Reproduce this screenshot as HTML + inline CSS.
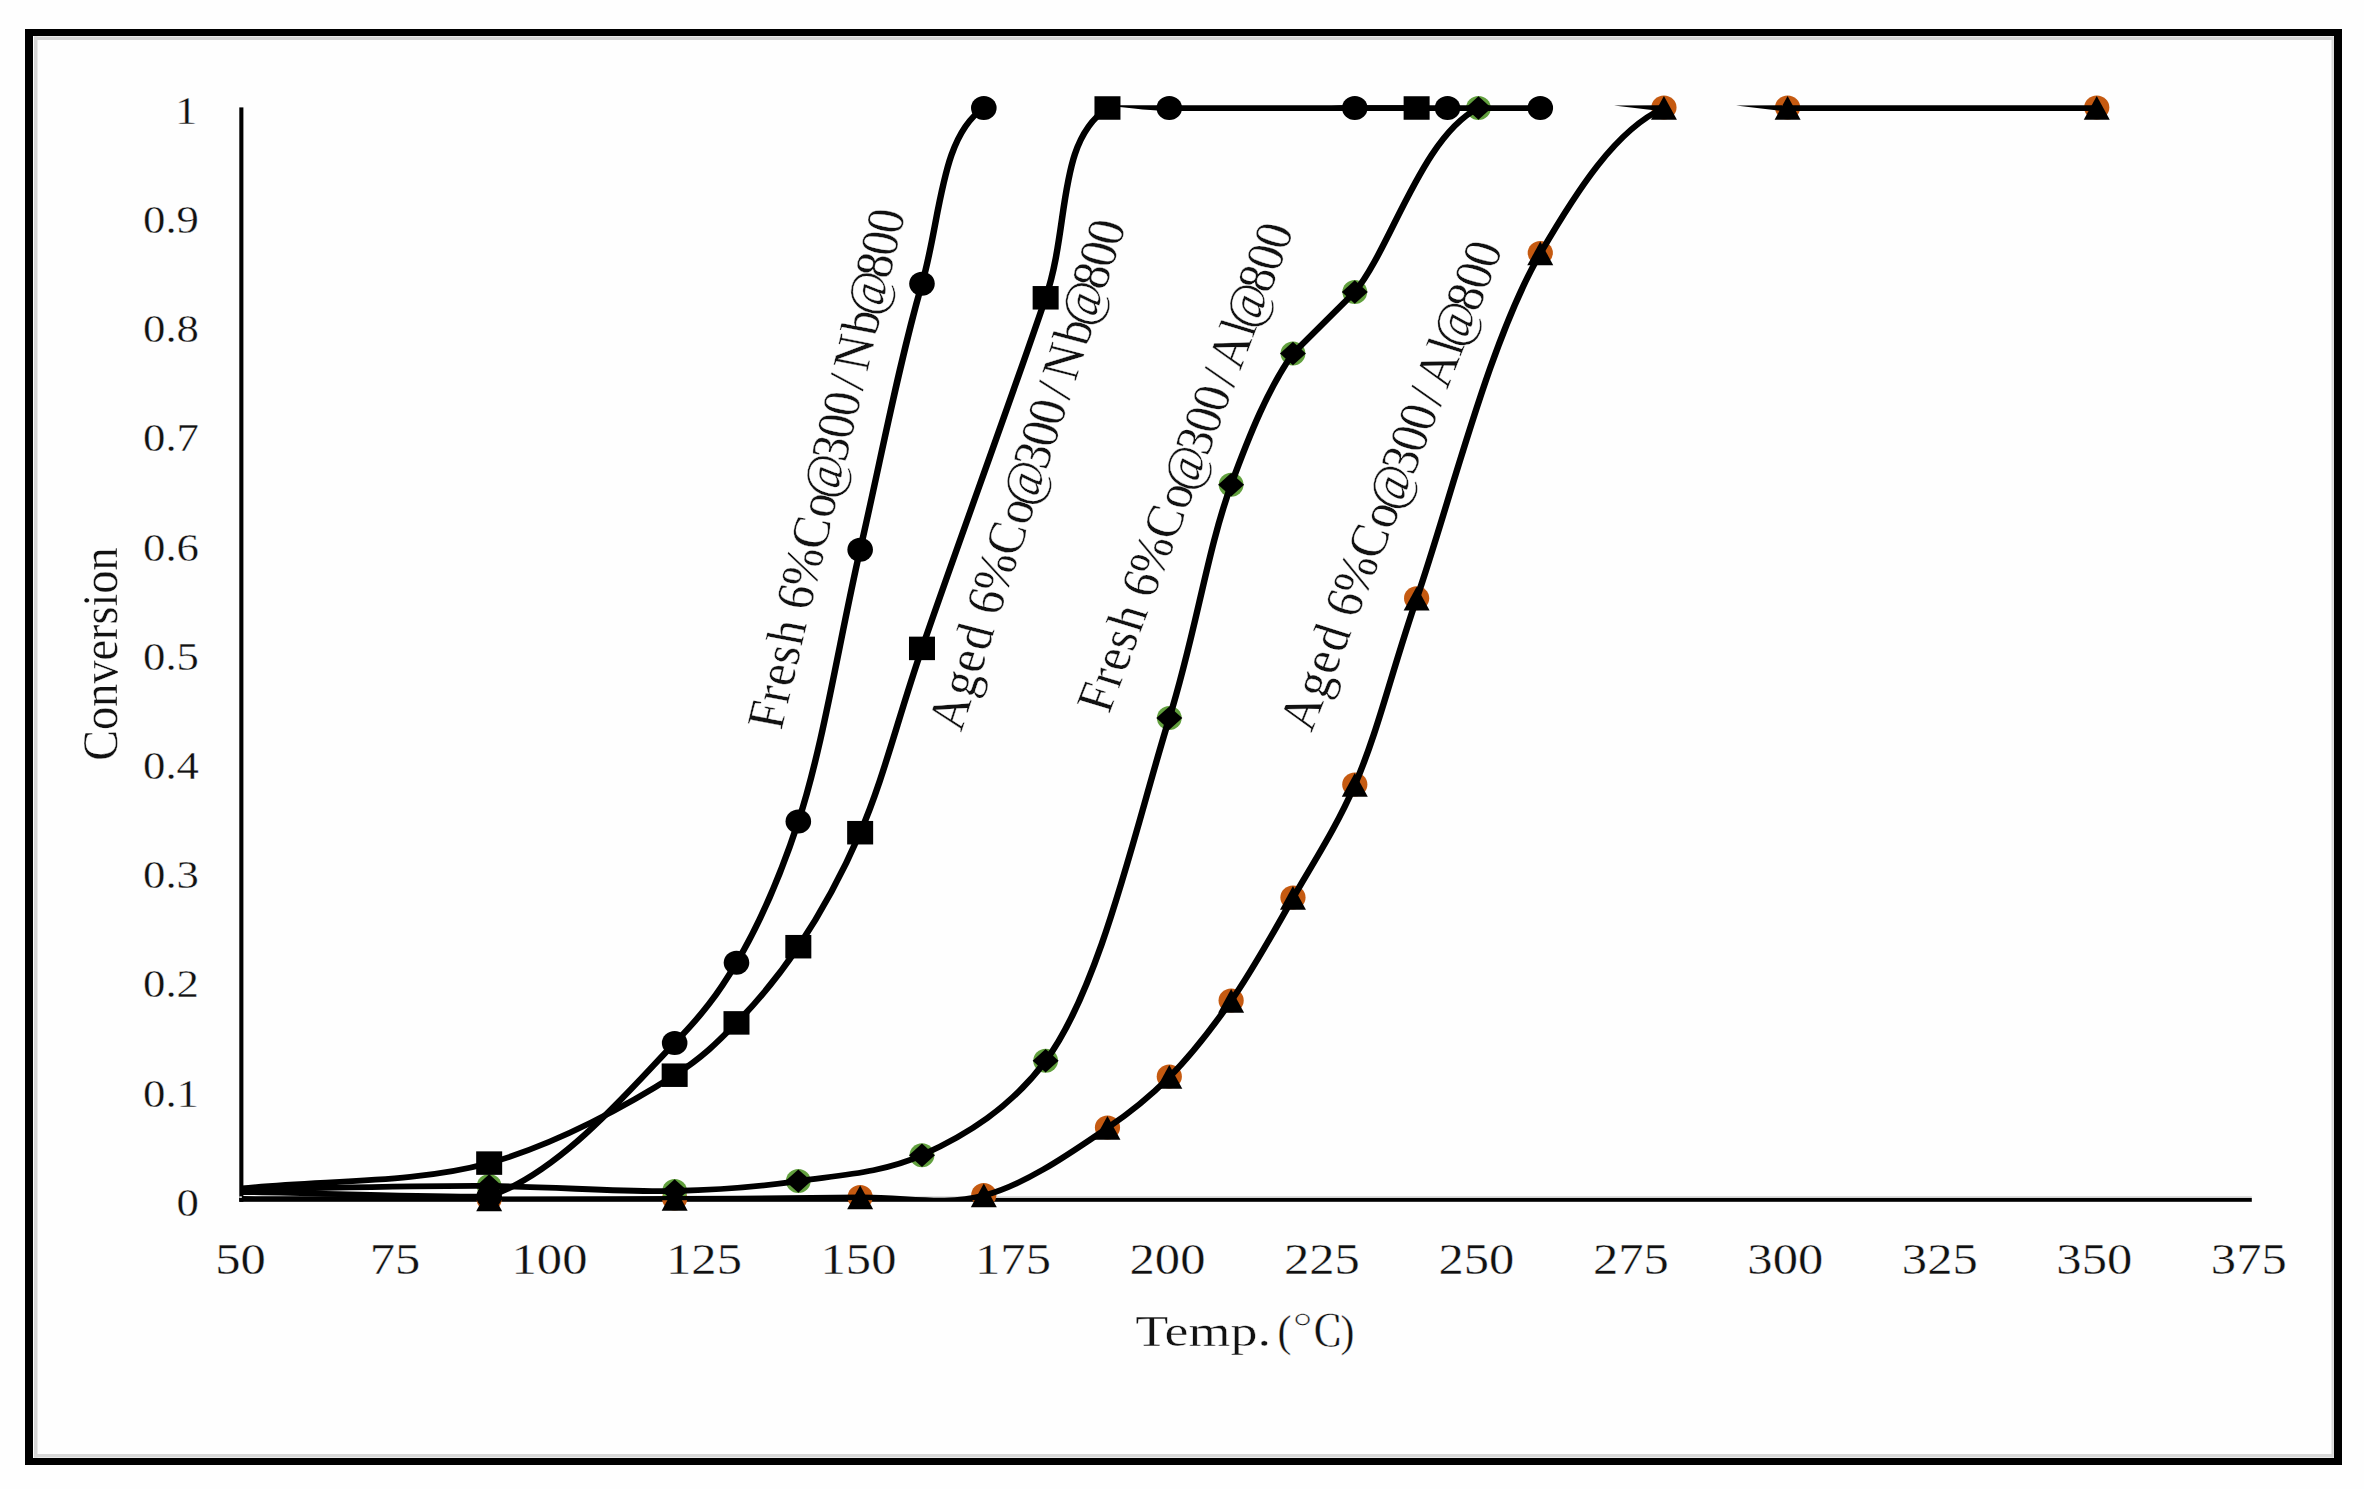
<!DOCTYPE html>
<html><head><meta charset="utf-8"><title>Conversion vs Temperature</title>
<style>
html,body{margin:0;padding:0;background:#fefefe;}
body{width:2364px;height:1489px;overflow:hidden;}
svg{display:block;}
</style></head><body>
<svg width="2364" height="1489" viewBox="0 0 2364 1489">
<defs>
<clipPath id="pa"><rect x="235" y="105.3" width="2030" height="1094.9"/></clipPath>
</defs>
<rect x="0" y="0" width="2364" height="1489" fill="#fefefe"/>
<!-- frame -->
<rect x="25" y="29" width="2317" height="7" fill="#000"/>
<rect x="25" y="1458" width="2317" height="7" fill="#000"/>
<rect x="25" y="29" width="8" height="1436" fill="#000"/>
<rect x="2334" y="29" width="8" height="1436" fill="#000"/>
<rect x="34" y="36.5" width="2299" height="3.5" fill="#d6d6d6"/>
<rect x="34" y="36.5" width="3.5" height="1421" fill="#d6d6d6"/>
<rect x="2331.5" y="36.5" width="2.3" height="1421" fill="#d8d8d8"/>
<rect x="34" y="1454" width="2299" height="3.5" fill="#d8d8d8"/>
<!-- axes -->
<rect x="239.3" y="107.4" width="4.1" height="1094.4" fill="#000"/>
<rect x="239.3" y="1196.3" width="2012.5" height="1.7" fill="#d2d2d2"/>
<rect x="239.3" y="1198" width="2012.5" height="3.8" fill="#000"/>
<ellipse cx="489.17" cy="1199.00" rx="12.60" ry="12.00" fill="#C55A11"/>
<ellipse cx="674.66" cy="1198.50" rx="12.60" ry="12.00" fill="#C55A11"/>
<ellipse cx="860.15" cy="1197.00" rx="12.60" ry="12.00" fill="#C55A11"/>
<ellipse cx="983.81" cy="1195.10" rx="12.60" ry="12.00" fill="#C55A11"/>
<ellipse cx="1107.47" cy="1127.40" rx="12.60" ry="12.00" fill="#C55A11"/>
<ellipse cx="1169.30" cy="1076.60" rx="12.60" ry="12.00" fill="#C55A11"/>
<ellipse cx="1231.13" cy="1000.40" rx="12.60" ry="12.00" fill="#C55A11"/>
<ellipse cx="1292.96" cy="897.60" rx="12.60" ry="12.00" fill="#C55A11"/>
<ellipse cx="1354.79" cy="784.50" rx="12.60" ry="12.00" fill="#C55A11"/>
<ellipse cx="1416.62" cy="598.30" rx="12.60" ry="12.00" fill="#C55A11"/>
<ellipse cx="1540.28" cy="253.00" rx="12.60" ry="12.00" fill="#C55A11"/>
<ellipse cx="1663.94" cy="107.50" rx="12.60" ry="12.00" fill="#C55A11"/>
<ellipse cx="1787.60" cy="107.50" rx="12.60" ry="12.00" fill="#C55A11"/>
<ellipse cx="2096.75" cy="107.50" rx="12.60" ry="12.00" fill="#C55A11"/>
<ellipse cx="489.17" cy="1186.00" rx="12.40" ry="12.00" fill="#62A03E"/>
<ellipse cx="674.66" cy="1191.00" rx="12.40" ry="12.00" fill="#62A03E"/>
<ellipse cx="798.32" cy="1181.10" rx="12.40" ry="12.00" fill="#62A03E"/>
<ellipse cx="921.98" cy="1155.20" rx="12.40" ry="12.00" fill="#62A03E"/>
<ellipse cx="1045.64" cy="1060.80" rx="12.40" ry="12.00" fill="#62A03E"/>
<ellipse cx="1169.30" cy="718.10" rx="12.40" ry="12.00" fill="#62A03E"/>
<ellipse cx="1231.13" cy="484.80" rx="12.40" ry="12.00" fill="#62A03E"/>
<ellipse cx="1292.96" cy="353.50" rx="12.40" ry="12.00" fill="#62A03E"/>
<ellipse cx="1354.79" cy="292.00" rx="12.40" ry="12.00" fill="#62A03E"/>
<ellipse cx="1478.45" cy="108.00" rx="12.40" ry="12.00" fill="#62A03E"/>
<g clip-path="url(#pa)"><g transform="scale(1.12,1)">
<path d="M215.94,1199.00 C289.54,1199.17 368.44,1199.53 436.76,1199.50 C495.93,1199.48 547.17,1199.33 602.38,1199.00 C657.58,1198.67 718.36,1198.15 767.99,1197.50 C808.51,1196.97 842.95,1205.93 878.40,1195.60 C916.79,1184.41 959.18,1150.29 988.81,1127.90 C1011.37,1110.86 1026.55,1096.74 1044.02,1077.10 C1063.59,1055.10 1081.71,1028.84 1099.22,1000.90 C1118.73,969.78 1136.36,933.36 1154.43,898.10 C1173.19,861.48 1192.83,828.17 1209.63,785.00 C1230.51,731.37 1242.83,670.24 1264.84,598.80 C1294.91,501.20 1329.65,341.25 1375.25,253.50 C1407.62,191.22 1442.93,129.21 1485.66,108.00 M1596.07,108.00 C1667.36,108.00 1780.09,108.00 1872.10,108.00" fill="none" stroke="#000" stroke-width="5.80" stroke-linejoin="round"/>
<path d="M215.94,1189.50 C289.54,1188.33 368.44,1185.51 436.76,1186.00 C495.93,1186.42 552.79,1192.47 602.38,1191.00 C642.94,1189.80 676.19,1187.00 712.79,1181.10 C749.80,1175.13 788.40,1172.83 823.20,1155.20 C862.57,1135.25 902.02,1108.23 933.61,1060.80 C983.34,986.13 1015.06,821.91 1044.02,718.10 C1067.65,633.39 1077.73,550.72 1099.22,484.80 C1115.79,433.99 1132.76,387.70 1154.43,353.50 C1172.83,333.00 1191.23,312.50 1209.63,292.00 C1242.02,248.13 1269.38,136.68 1320.04,108.00 M1485.66,108.00" fill="none" stroke="#000" stroke-width="5.80" stroke-linejoin="round"/>
<path d="M215.94,1188.50 C289.54,1180.03 370.19,1183.78 436.76,1163.10 C497.90,1144.10 563.24,1103.32 602.38,1075.20 C627.30,1057.29 640.06,1042.89 657.58,1022.90 C677.07,1000.66 695.56,975.50 712.79,946.70 C732.77,913.28 751.14,876.01 767.99,832.70 C788.75,779.33 801.34,719.54 823.20,648.40 C853.40,550.07 903.56,397.02 933.61,297.80 C955.64,225.04 943.16,142.27 988.81,108.00 C1042.76,67.51 1172.83,108.00 1264.84,108.00" fill="none" stroke="#000" stroke-width="5.80" stroke-linejoin="round"/>
<path d="M215.94,1192.00 C285.71,1193.00 375.00,1197.50 436.76,1196.50 C501.63,1171.82 563.58,1087.86 602.38,1043.00 C627.85,1013.55 640.80,994.42 657.58,962.80 C678.51,923.34 696.42,877.14 712.79,821.60 C734.92,746.47 749.49,639.82 767.99,549.70 C786.30,460.53 802.63,362.75 823.20,283.70 C840.13,218.61 839.56,136.51 878.40,108.00 C915.23,80.97 988.81,108.00 1044.02,108.00 C1099.22,108.00 1163.90,108.00 1209.63,108.00 C1241.97,108.00 1264.84,108.00 1292.44,108.00 C1320.04,108.00 1347.65,108.00 1375.25,108.00" fill="none" stroke="#000" stroke-width="5.80" stroke-linejoin="round"/>
</g></g>
<path d="M1614.0,105.6 L1660.0,105.3 L1660.0,111.0 Z" fill="#000"/>
<path d="M1736.0,105.6 L1782.0,105.3 L1782.0,111.0 Z" fill="#000"/>
<path d="M489.17,1187.50L502.17,1211.25L476.17,1211.25Z" fill="#000"/>
<path d="M674.66,1187.00L687.66,1210.75L661.66,1210.75Z" fill="#000"/>
<path d="M860.15,1185.50L873.15,1209.25L847.15,1209.25Z" fill="#000"/>
<path d="M983.81,1183.60L996.81,1207.35L970.81,1207.35Z" fill="#000"/>
<path d="M1107.47,1115.90L1120.47,1139.65L1094.47,1139.65Z" fill="#000"/>
<path d="M1169.30,1065.10L1182.30,1088.85L1156.30,1088.85Z" fill="#000"/>
<path d="M1231.13,988.90L1244.13,1012.65L1218.13,1012.65Z" fill="#000"/>
<path d="M1292.96,886.10L1305.96,909.85L1279.96,909.85Z" fill="#000"/>
<path d="M1354.79,773.00L1367.79,796.75L1341.79,796.75Z" fill="#000"/>
<path d="M1416.62,586.80L1429.62,610.55L1403.62,610.55Z" fill="#000"/>
<path d="M1540.28,241.50L1553.28,265.25L1527.28,265.25Z" fill="#000"/>
<path d="M1663.94,96.00L1676.94,119.75L1650.94,119.75Z" fill="#000"/>
<path d="M1787.60,96.00L1800.60,119.75L1774.60,119.75Z" fill="#000"/>
<path d="M2096.75,96.00L2109.75,119.75L2083.75,119.75Z" fill="#000"/>
<path d="M476.17,1186.00L489.17,1174.30L502.17,1186.00L489.17,1197.70Z" fill="#000"/>
<path d="M661.66,1191.00L674.66,1179.30L687.66,1191.00L674.66,1202.70Z" fill="#000"/>
<path d="M785.32,1181.10L798.32,1169.40L811.32,1181.10L798.32,1192.80Z" fill="#000"/>
<path d="M908.98,1155.20L921.98,1143.50L934.98,1155.20L921.98,1166.90Z" fill="#000"/>
<path d="M1032.64,1060.80L1045.64,1049.10L1058.64,1060.80L1045.64,1072.50Z" fill="#000"/>
<path d="M1156.30,718.10L1169.30,706.40L1182.30,718.10L1169.30,729.80Z" fill="#000"/>
<path d="M1218.13,484.80L1231.13,473.10L1244.13,484.80L1231.13,496.50Z" fill="#000"/>
<path d="M1279.96,353.50L1292.96,341.80L1305.96,353.50L1292.96,365.20Z" fill="#000"/>
<path d="M1341.79,292.00L1354.79,280.30L1367.79,292.00L1354.79,303.70Z" fill="#000"/>
<path d="M1465.45,108.00L1478.45,96.30L1491.45,108.00L1478.45,119.70Z" fill="#000"/>
<rect x="476.17" y="1151.35" width="26" height="23.5" fill="#000"/>
<rect x="661.66" y="1063.45" width="26" height="23.5" fill="#000"/>
<rect x="723.49" y="1011.15" width="26" height="23.5" fill="#000"/>
<rect x="785.32" y="934.95" width="26" height="23.5" fill="#000"/>
<rect x="847.15" y="820.95" width="26" height="23.5" fill="#000"/>
<rect x="908.98" y="636.65" width="26" height="23.5" fill="#000"/>
<rect x="1032.64" y="286.05" width="26" height="23.5" fill="#000"/>
<rect x="1094.47" y="96.25" width="26" height="23.5" fill="#000"/>
<rect x="1403.62" y="96.25" width="26" height="23.5" fill="#000"/>
<ellipse cx="489.17" cy="1196.50" rx="12.80" ry="12.00" fill="#000"/>
<ellipse cx="674.66" cy="1043.00" rx="12.80" ry="12.00" fill="#000"/>
<ellipse cx="736.49" cy="962.80" rx="12.80" ry="12.00" fill="#000"/>
<ellipse cx="798.32" cy="821.60" rx="12.80" ry="12.00" fill="#000"/>
<ellipse cx="860.15" cy="549.70" rx="12.80" ry="12.00" fill="#000"/>
<ellipse cx="921.98" cy="283.70" rx="12.80" ry="12.00" fill="#000"/>
<ellipse cx="983.81" cy="108.00" rx="12.80" ry="12.00" fill="#000"/>
<ellipse cx="1169.30" cy="108.00" rx="12.80" ry="12.00" fill="#000"/>
<ellipse cx="1354.79" cy="108.00" rx="12.80" ry="12.00" fill="#000"/>
<ellipse cx="1447.54" cy="108.00" rx="12.80" ry="12.00" fill="#000"/>
<ellipse cx="1540.28" cy="108.00" rx="12.80" ry="12.00" fill="#000"/>
<g font-family='"Liberation Serif", "Noto Serif CJK SC", serif' fill="#111" stroke="#fefefe" stroke-width="0.35" paint-order="fill">
<g font-size="40">
<text x="199.0" y="1216.0" text-anchor="end" transform="translate(199.0,0) scale(1.12,1) translate(-199.0,0)">0</text>
<text x="199.0" y="1106.8" text-anchor="end" transform="translate(199.0,0) scale(1.12,1) translate(-199.0,0)">0.1</text>
<text x="199.0" y="997.5" text-anchor="end" transform="translate(199.0,0) scale(1.12,1) translate(-199.0,0)">0.2</text>
<text x="199.0" y="888.3" text-anchor="end" transform="translate(199.0,0) scale(1.12,1) translate(-199.0,0)">0.3</text>
<text x="199.0" y="779.0" text-anchor="end" transform="translate(199.0,0) scale(1.12,1) translate(-199.0,0)">0.4</text>
<text x="199.0" y="669.8" text-anchor="end" transform="translate(199.0,0) scale(1.12,1) translate(-199.0,0)">0.5</text>
<text x="199.0" y="560.6" text-anchor="end" transform="translate(199.0,0) scale(1.12,1) translate(-199.0,0)">0.6</text>
<text x="199.0" y="451.3" text-anchor="end" transform="translate(199.0,0) scale(1.12,1) translate(-199.0,0)">0.7</text>
<text x="199.0" y="342.1" text-anchor="end" transform="translate(199.0,0) scale(1.12,1) translate(-199.0,0)">0.8</text>
<text x="199.0" y="232.8" text-anchor="end" transform="translate(199.0,0) scale(1.12,1) translate(-199.0,0)">0.9</text>
<text x="197.5" y="123.6" text-anchor="end" transform="translate(197.5,0) scale(1.12,1) translate(-197.5,0)">1</text>
</g>
<g font-size="44">
<text x="240.6" y="1274" text-anchor="middle" transform="translate(240.6,0) scale(1.15,1) translate(-240.6,0)">50</text>
<text x="395.1" y="1274" text-anchor="middle" transform="translate(395.1,0) scale(1.15,1) translate(-395.1,0)">75</text>
<text x="549.5" y="1274" text-anchor="middle" transform="translate(549.5,0) scale(1.15,1) translate(-549.5,0)">100</text>
<text x="704.0" y="1274" text-anchor="middle" transform="translate(704.0,0) scale(1.15,1) translate(-704.0,0)">125</text>
<text x="858.5" y="1274" text-anchor="middle" transform="translate(858.5,0) scale(1.15,1) translate(-858.5,0)">150</text>
<text x="1013.0" y="1274" text-anchor="middle" transform="translate(1013.0,0) scale(1.15,1) translate(-1013.0,0)">175</text>
<text x="1167.5" y="1274" text-anchor="middle" transform="translate(1167.5,0) scale(1.15,1) translate(-1167.5,0)">200</text>
<text x="1321.9" y="1274" text-anchor="middle" transform="translate(1321.9,0) scale(1.15,1) translate(-1321.9,0)">225</text>
<text x="1476.4" y="1274" text-anchor="middle" transform="translate(1476.4,0) scale(1.15,1) translate(-1476.4,0)">250</text>
<text x="1630.9" y="1274" text-anchor="middle" transform="translate(1630.9,0) scale(1.15,1) translate(-1630.9,0)">275</text>
<text x="1785.3" y="1274" text-anchor="middle" transform="translate(1785.3,0) scale(1.15,1) translate(-1785.3,0)">300</text>
<text x="1939.8" y="1274" text-anchor="middle" transform="translate(1939.8,0) scale(1.15,1) translate(-1939.8,0)">325</text>
<text x="2094.3" y="1274" text-anchor="middle" transform="translate(2094.3,0) scale(1.15,1) translate(-2094.3,0)">350</text>
<text x="2248.8" y="1274" text-anchor="middle" transform="translate(2248.8,0) scale(1.15,1) translate(-2248.8,0)">375</text>
</g>
<text x="0" y="0" font-size="46.3" text-anchor="middle" transform="translate(117,654.1) scale(1.088,1) rotate(-90)">Conversion</text>
<text x="0" y="0" font-size="44" transform="translate(1135.3,1345.5) scale(1.229,1)">Temp.</text>
<text x="0" y="0" font-size="44" transform="translate(1277.5,1345.5) scale(0.95,1)">(</text>
<text x="0" y="0" font-size="44" font-family='"Liberation Serif", "Noto Serif CJK SC", serif' transform="translate(1291.5,1346) scale(1.2,0.95)">℃</text>
<text x="0" y="0" font-size="44" transform="translate(1340.5,1345.5) scale(0.95,1)">)</text>
<text x="-0.57 26.33 43.56 65.37 85.60 110.43 121.54 144.08 183.21 215.68 235.07 273.39 296.11 318.83 346.50 365.88 402.59 422.14 460.46 483.17 505.89" y="0" font-size="47.47" transform="translate(781.6,730.4) scale(1.120,1) rotate(-77.95)">Fresh 6%Co@300/Nb@800</text>
<text x="0.54 36.13 60.99 84.44 109.94 121.06 143.61 182.76 215.25 234.65 272.99 295.72 318.45 346.14 365.52 402.26 421.81 460.15 482.88 505.61" y="0" font-size="47.49" transform="translate(961.2,733.3) scale(1.120,1) rotate(-73.83)">Aged 6%Co@300/Nb@800</text>
<text x="-0.56 26.16 43.27 64.94 85.04 109.71 120.74 143.13 182.01 214.27 233.53 271.60 294.17 316.74 344.24 362.29 396.89 405.16 443.23 465.80 488.37" y="0" font-size="47.16" transform="translate(1109.3,714.1) scale(1.120,1) rotate(-71.17)">Fresh 6%Co@300/Al@800</text>
<text x="0.54 36.14 61.01 84.46 109.97 121.09 143.65 182.81 215.31 234.71 273.06 295.80 318.53 346.23 364.41 399.27 407.60 445.95 468.69 491.42" y="0" font-size="47.51" transform="translate(1311.4,733.7) scale(1.120,1) rotate(-70.56)">Aged 6%Co@300/Al@800</text>
</g>
</svg>
</body></html>
